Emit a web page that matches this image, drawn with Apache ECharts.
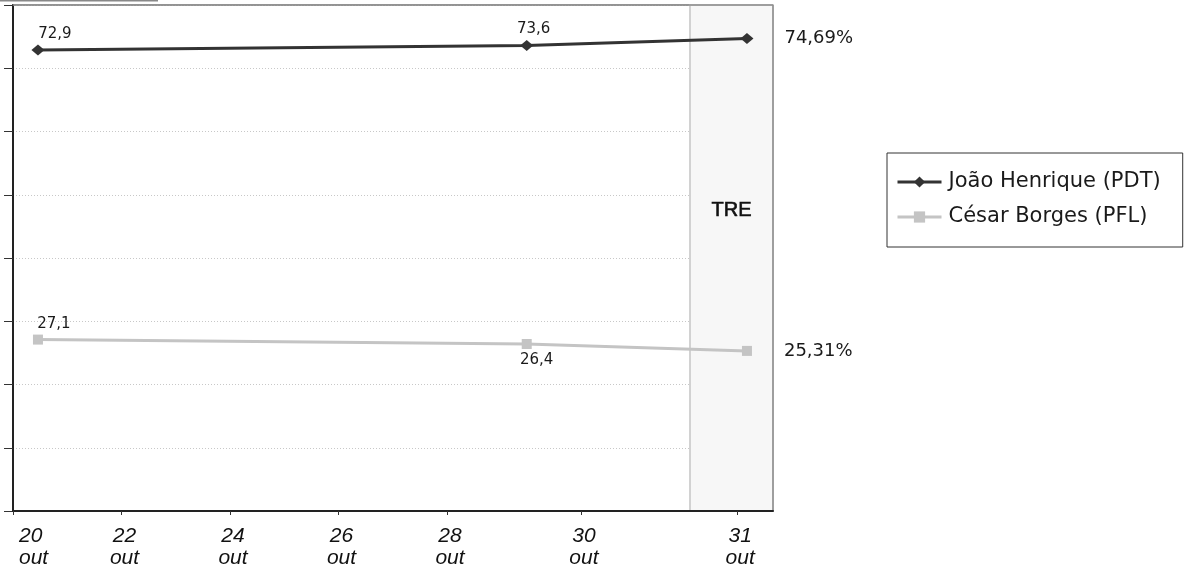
<!DOCTYPE html>
<html>
<head>
<meta charset="utf-8">
<script src="https://cdn.jsdelivr.net/npm/echarts@6/dist/echarts.min.js"></script>
<style>
html,body{margin:0;padding:0;background:#fff;}
#chart{width:1184px;height:569px;}
</style>
</head>
<body>
<div id="chart"></div>
<script>
// ---- data ----
const xTickPos = [20, 22, 24, 26, 28, 30.47, 33.35];
const xTickLabels = ['20\nout', '22\nout', '24\nout', '26\nout', '28\nout', '30\nout', '31\nout'];
const xMin = 20, xMax = 34.01;
const yMin = 0, yMax = 80, yStep = 10;
const pollX = [20.46, 29.47, 33.53];
const seriesNames = ['João Henrique (PDT)', 'César Borges (PFL)'];
const joao = [72.9, 73.6, 74.69];
const cesar = [27.1, 26.4, 25.31];
const joaoLabels = ['72,9', '73,6', '74,69%'];
const cesarLabels = ['27,1', '26,4', '25,31%'];
const treRange = [32.48, 34.01];
const treLabel = 'TRE';

// ---- label styles (per point) ----
const joaoLabelStyle = [
  {position: 'top', offset: [17, 0], distance: 3, fontSize: 15},
  {position: 'top', offset: [7, 0], distance: 3, fontSize: 15},
  {position: 'right', distance: 31, fontSize: 18}
];
const cesarLabelStyle = [
  {position: 'top', offset: [16, 0], distance: 3, fontSize: 15},
  {position: 'bottom', offset: [10, 0], distance: 4, fontSize: 15},
  {position: 'right', distance: 32, fontSize: 18}
];

function buildData(xs, ys, labels, styles) {
  return xs.map((x, i) => ({
    value: [x, ys[i]],
    label: Object.assign({show: true, formatter: labels[i], color: '#1a1a1a', fontFamily: 'DejaVu Sans'}, styles[i])
  }));
}

const chart = echarts.init(document.getElementById('chart'));
chart.setOption({
  animation: false,
  backgroundColor: '#fff',
  grid: {left: 13, right: 411, top: 5, bottom: 56, show: true, borderColor: '#8c8c8c', borderWidth: 1.5, backgroundColor: 'transparent'},
  graphic: [{type: 'rect', left: 0, top: 0, shape: {width: 158, height: 1.5}, style: {fill: '#888'}}],
  legend: {
    data: seriesNames,
    orient: 'vertical',
    left: 887, top: 153,
    padding: [18, 22, 19, 9],
    itemGap: 13,
    itemWidth: 44, itemHeight: 14,
    borderColor: '#333', borderWidth: 1,
    lineStyle: {width: 3},
    textStyle: {fontFamily: 'DejaVu Sans', fontSize: 21, color: '#1a1a1a', lineHeight: 22, padding: [0, 0, 0, 2]}
  },
  xAxis: {
    type: 'value', min: xMin, max: xMax, z: 6,
    axisLine: {show: true, lineStyle: {color: '#222', width: 2}},
    axisTick: {show: true, customValues: xTickPos, length: 4, lineStyle: {color: '#333'}},
    axisLabel: {
      customValues: xTickPos,
      formatter: v => xTickLabels[xTickPos.indexOf(v)],
      fontFamily: 'Liberation Sans', fontStyle: 'italic', fontSize: 21, color: '#111', lineHeight: 22,
      margin: 14, alignMinLabel: 'left', alignMaxLabel: 'center', padding: [0, 0, 0, 6]
    },
    splitLine: {show: false}
  },
  yAxis: {
    type: 'value', min: yMin, max: yMax, interval: yStep,
    axisLine: {show: true, lineStyle: {color: '#222', width: 2}},
    axisTick: {show: true, length: 9, lineStyle: {color: '#333'}},
    axisLabel: {show: false},
    splitLine: {show: true, lineStyle: {color: '#c8c8c8', type: [1, 2], width: 1}}
  },
  series: [
    {
      name: 'TRE', type: 'line', data: [], z: 1, silent: true,
      markArea: {
        silent: true,
        itemStyle: {color: '#f7f7f7', borderColor: '#d2d2d2', borderWidth: 2},
        label: {show: true, position: ['50%', '40.7%'], align: 'center', verticalAlign: 'middle', color: '#111', fontFamily: 'Liberation Sans', fontSize: 20, textBorderColor: '#111', textBorderWidth: 0.6},
        data: [[{xAxis: treRange[0], yAxis: yMin, name: treLabel}, {xAxis: treRange[1], yAxis: yMax}]]
      },
      markLine: {
        silent: true, symbol: 'none', label: {show: false},
        lineStyle: {color: '#8c8c8c', width: 1.5, type: 'solid'},
        data: [{xAxis: xMax}, {yAxis: yMax}]
      }
    },
    {
      name: seriesNames[0], type: 'line', z: 3,
      data: buildData(pollX, joao, joaoLabels, joaoLabelStyle),
      symbol: 'diamond', symbolSize: [13, 11],
      lineStyle: {color: '#333', width: 3},
      itemStyle: {color: '#333'}
    },
    {
      name: seriesNames[1], type: 'line', z: 3,
      data: buildData(pollX, cesar, cesarLabels, cesarLabelStyle),
      symbol: 'rect', symbolSize: 10,
      lineStyle: {color: '#c4c4c4', width: 3},
      itemStyle: {color: '#c4c4c4'}
    }
  ]
});
</script>
</body>
</html>
